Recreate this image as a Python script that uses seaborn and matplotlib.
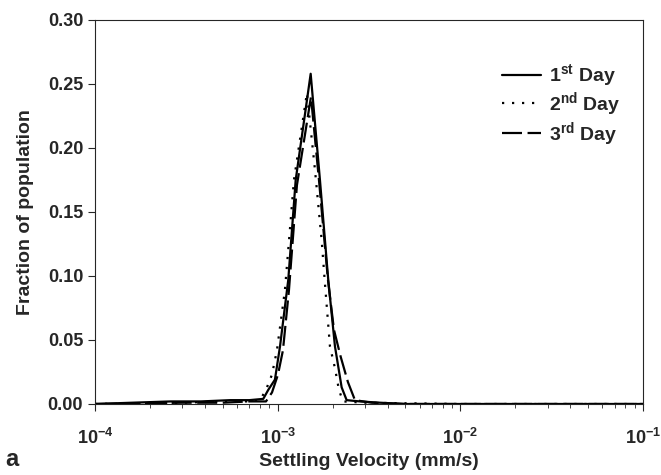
import matplotlib
matplotlib.use("Agg")
import matplotlib.pyplot as plt
import numpy as np
import pandas as pd
import seaborn as sns

# settling velocity (mm/s) and fraction of population
vel_day1 = [1.0e-4, 1.6e-4, 2.6e-4, 3.8e-4, 5.5e-4, 7.0e-4, 8.34e-4, 8.88e-4, 9.66e-4,
            1.03e-3, 1.143e-3, 1.255e-3, 1.516e-3, 1.704e-3, 1.892e-3, 2.059e-3,
            2.24e-3, 2.386e-3, 2.82e-3, 3.63e-3, 5.0e-3, 1.0e-2, 5.0e-2, 1.0e-1]
frac_day1 = [0.0, 0.001, 0.002, 0.002, 0.003, 0.003, 0.004, 0.011, 0.019,
             0.045, 0.097, 0.175, 0.258, 0.175, 0.097, 0.045,
             0.013, 0.003, 0.002, 0.001, 0.0, 0.0, 0.0, 0.0]

vel_day2 = [1.0e-4, 3.0e-4, 5.0e-4, 7.0e-4, 8.0e-4, 8.63e-4, 9.31e-4, 9.91e-4,
            1.096e-3, 1.228e-3, 1.446e-3, 1.6e-3, 1.741e-3, 1.815e-3, 1.933e-3,
            2.059e-3, 2.165e-3, 2.278e-3, 3.0e-3, 1.0e-2, 1.0e-1]
frac_day2 = [0.0, 0.001, 0.002, 0.002, 0.003, 0.011, 0.023, 0.042,
             0.089, 0.175, 0.243, 0.183, 0.128, 0.094, 0.045,
             0.028, 0.011, 0.002, 0.001, 0.0, 0.0]

vel_day3 = [1.0e-4, 3.0e-4, 5.0e-4, 7.0e-4, 8.63e-4, 9.31e-4, 1.004e-3, 1.069e-3,
            1.153e-3, 1.275e-3, 1.522e-3, 1.683e-3, 1.885e-3, 2.033e-3, 2.212e-3,
            2.426e-3, 2.649e-3, 3.28e-3, 5.0e-3, 1.0e-2, 1.0e-1]
frac_day3 = [0.0, 0.001, 0.001, 0.002, 0.002, 0.009, 0.023, 0.042,
             0.089, 0.171, 0.240, 0.175, 0.097, 0.058, 0.037,
             0.017, 0.003, 0.001, 0.0, 0.0, 0.0]

day_labels = [r"1$^{st}$ Day", r"2$^{nd}$ Day", r"3$^{rd}$ Day"]

df = pd.concat([
    pd.DataFrame({"vel": vel_day1, "frac": frac_day1, "day": day_labels[0]}),
    pd.DataFrame({"vel": vel_day2, "frac": frac_day2, "day": day_labels[1]}),
    pd.DataFrame({"vel": vel_day3, "frac": frac_day3, "day": day_labels[2]}),
], ignore_index=True)

sns.set_style("ticks")
plt.rcParams["font.family"] = ["Liberation Sans", "DejaVu Sans"]
plt.rcParams["font.weight"] = "bold"
plt.rcParams["mathtext.fontset"] = "custom"
plt.rcParams["mathtext.rm"] = "Liberation Sans:bold"
plt.rcParams["mathtext.bf"] = "Liberation Sans:bold"
plt.rcParams["mathtext.it"] = "Liberation Sans:bold"
plt.rcParams["axes.unicode_minus"] = False

fig = plt.figure(figsize=(6.61, 4.75), dpi=100)
ax = fig.add_axes([0.1437, 0.1495, 0.8291, 0.8084])

sns.lineplot(data=df, x="vel", y="frac", hue="day", style="day",
             palette=["black"] * 3, dashes=["", (1, 3.5), (9, 2.5)],
             estimator=None, sort=False, linewidth=1.6, ax=ax)

ax.set_xscale("log")
ax.set_xlim(1e-4, 1e-1)
ax.set_ylim(0, 0.30)
ax.set_yticks(np.arange(0, 0.31, 0.05))
ax.set_yticklabels([f"{v:.2f}" for v in np.arange(0, 0.31, 0.05)])
ax.tick_params(axis="both", which="major", labelsize=13, length=5, width=0.8, direction="out")
ax.tick_params(axis="x", which="major", pad=12)
ax.tick_params(axis="x", which="minor", length=3, width=0.6, direction="out")
for sp in ax.spines.values():
    sp.set_linewidth(0.8)
    sp.set_visible(True)

ax.set_xlabel("Settling Velocity (mm/s)", fontsize=14, fontweight="bold", labelpad=4)
ax.set_ylabel("Fraction of population", fontsize=14, fontweight="bold", labelpad=10)
fig.text(0.008, 0.018, "a", fontsize=17, fontweight="bold")

leg = ax.legend(loc="upper right", bbox_to_anchor=(0.99, 0.935), frameon=False,
                fontsize=14, handlelength=2.0, handletextpad=0.4, labelspacing=0.1,
                title=None)
for t in leg.get_texts():
    t.set_fontweight("bold")

fig.savefig("out.png", dpi=100)
